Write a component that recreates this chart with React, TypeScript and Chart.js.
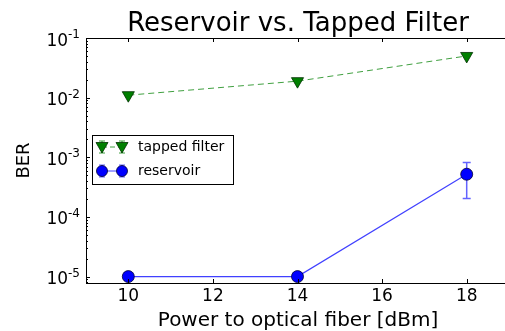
import React, { useEffect, useRef } from 'react';
import { Chart, registerables } from 'chart.js';
Chart.register(...registerables);

const powers = [10, 14, 18];
const tappedBER = [0.011, 0.0189, 0.05];
const reservoirBER = [1e-5, 1e-5, 5.2e-4];
const reservoirErrLow: (number | null)[] = [null, null, 2.04e-4];
const reservoirErrHigh: (number | null)[] = [null, null, 8.2e-4];
const xTicks = [10, 12, 14, 16, 18];
const yDecades = [-1, -2, -3, -4, -5];
const titleText = 'Reservoir vs. Tapped Filter';
const xLabel = 'Power to optical fiber [dBm]';
const yLabel = 'BER';
const seriesNames = ['tapped filter', 'reservoir'];

const FONT = '"DejaVu Sans", sans-serif';
const GREEN = '#008000';
const GREEN_LINE = 'rgba(0,128,0,0.75)';
const BLUE = '#0000ff';
const BLUE_LINE = 'rgba(0,0,255,0.75)';

function drawTri(ctx: CanvasRenderingContext2D, x: number, y: number, r: number) {
  ctx.beginPath();
  ctx.moveTo(x - r, y - r * 0.75);
  ctx.lineTo(x + r, y - r * 0.75);
  ctx.lineTo(x, y + r);
  ctx.closePath();
  ctx.fillStyle = GREEN;
  ctx.fill();
  ctx.strokeStyle = '#003000';
  ctx.lineWidth = 0.8;
  ctx.stroke();
}
function drawCirc(ctx: CanvasRenderingContext2D, x: number, y: number, r: number) {
  ctx.beginPath();
  ctx.arc(x, y, r, 0, Math.PI * 2);
  ctx.fillStyle = BLUE;
  ctx.fill();
  ctx.strokeStyle = '#000033';
  ctx.lineWidth = 0.8;
  ctx.stroke();
}

const errorBarPlugin = {
  id: 'errbars',
  beforeDatasetsDraw(chart: any) {
    const ctx = chart.ctx;
    const xs = chart.scales.x;
    const ys = chart.scales.y;
    ctx.save();
    ctx.strokeStyle = 'rgba(60,60,255,0.8)';
    ctx.lineWidth = 1.5;
    powers.forEach((p, i) => {
      const lo = reservoirErrLow[i];
      const hi = reservoirErrHigh[i];
      if (lo == null || hi == null) return;
      const x = xs.getPixelForValue(p);
      const y1 = ys.getPixelForValue(lo);
      const y2 = ys.getPixelForValue(hi);
      ctx.beginPath();
      ctx.moveTo(x, y1); ctx.lineTo(x, y2);
      ctx.moveTo(x - 4, y1); ctx.lineTo(x + 4, y1);
      ctx.moveTo(x - 4, y2); ctx.lineTo(x + 4, y2);
      ctx.stroke();
    });
    ctx.restore();
  },
};

const decorPlugin = {
  id: 'decor',
  afterDraw(chart: any) {
    const ctx: CanvasRenderingContext2D = chart.ctx;
    const a = chart.chartArea;
    const xs = chart.scales.x;
    const ys = chart.scales.y;
    ctx.save();
    ctx.strokeStyle = '#000';
    ctx.lineWidth = 1;
    ctx.strokeRect(Math.round(a.left) + 0.5, Math.round(a.top) + 0.5, a.right - a.left, a.bottom - a.top);
    xTicks.forEach((t) => {
      const x = Math.round(xs.getPixelForValue(t)) + 0.5;
      ctx.beginPath();
      ctx.moveTo(x, a.bottom); ctx.lineTo(x, a.bottom - 4);
      ctx.moveTo(x, a.top); ctx.lineTo(x, a.top + 4);
      ctx.stroke();
    });
    for (let d = -6; d <= -1; d++) {
      for (let m = 1; m <= 9; m++) {
        const v = m * Math.pow(10, d);
        if (v < ys.min * 0.999 || v > ys.max * 1.001) continue;
        const y = Math.round(ys.getPixelForValue(v)) + 0.5;
        const len = m === 1 ? 4 : 2;
        ctx.beginPath();
        ctx.moveTo(a.left, y); ctx.lineTo(a.left + len, y);
        ctx.moveTo(a.right, y); ctx.lineTo(a.right - len, y);
        ctx.stroke();
      }
    }
    ctx.fillStyle = '#000';
    ctx.font = `17px ${FONT}`;
    ctx.textAlign = 'center';
    ctx.textBaseline = 'alphabetic';
    xTicks.forEach((t) => {
      ctx.fillText(String(t), xs.getPixelForValue(t), a.bottom + 18);
    });
    yDecades.forEach((d) => {
      const y = ys.getPixelForValue(Math.pow(10, d));
      const sup = String(d);
      ctx.font = `12px ${FONT}`;
      const sw = ctx.measureText(sup).width;
      ctx.textAlign = 'right';
      ctx.textBaseline = 'alphabetic';
      const right = a.left - 6;
      ctx.fillText(sup, right, y);
      ctx.font = `17px ${FONT}`;
      ctx.fillText('10', right - sw, y + 7.5);
    });
    ctx.font = `26px ${FONT}`;
    ctx.textAlign = 'center';
    ctx.fillText(titleText, 298, 31);
    ctx.font = `20px ${FONT}`;
    ctx.fillText(xLabel, 298, 326);
    ctx.save();
    ctx.translate(29, (a.top + a.bottom) / 2);
    ctx.rotate(-Math.PI / 2);
    ctx.font = `18px ${FONT}`;
    ctx.textAlign = 'center';
    ctx.fillText(yLabel, 0, 0);
    ctx.restore();
    // legend
    const lx = 92, ly = 135, lw = 141, lh = 49;
    ctx.fillStyle = '#fff';
    ctx.fillRect(lx, ly, lw, lh);
    ctx.strokeStyle = '#000';
    ctx.lineWidth = 1;
    ctx.strokeRect(lx + 0.5, ly + 0.5, lw, lh);
    const rows = [147, 171];
    const mx1 = 102, mx2 = 122;
    ctx.strokeStyle = GREEN_LINE;
    ctx.lineWidth = 1;
    ctx.beginPath();
    [mx1, mx2].forEach((mx) => {
      ctx.moveTo(mx, rows[0] - 6); ctx.lineTo(mx, rows[0] + 6);
      ctx.moveTo(mx - 3, rows[0] - 6); ctx.lineTo(mx + 3, rows[0] - 6);
      ctx.moveTo(mx - 3, rows[0] + 6); ctx.lineTo(mx + 3, rows[0] + 6);
    });
    ctx.stroke();
    ctx.setLineDash([5, 3]);
    ctx.beginPath();
    ctx.moveTo(mx1, rows[0]); ctx.lineTo(mx2, rows[0]);
    ctx.stroke();
    ctx.setLineDash([]);
    drawTri(ctx, mx1, rows[0], 6);
    drawTri(ctx, mx2, rows[0], 6);
    ctx.strokeStyle = 'rgba(60,60,255,0.8)';
    ctx.lineWidth = 1;
    ctx.beginPath();
    [mx1, mx2].forEach((mx) => {
      ctx.moveTo(mx, rows[1] - 6); ctx.lineTo(mx, rows[1] + 6);
      ctx.moveTo(mx - 3, rows[1] - 6); ctx.lineTo(mx + 3, rows[1] - 6);
      ctx.moveTo(mx - 3, rows[1] + 6); ctx.lineTo(mx + 3, rows[1] + 6);
    });
    ctx.stroke();
    ctx.strokeStyle = BLUE_LINE;
    ctx.beginPath();
    ctx.moveTo(mx1, rows[1]); ctx.lineTo(mx2, rows[1]);
    ctx.stroke();
    drawCirc(ctx, mx1, rows[1], 5.5);
    drawCirc(ctx, mx2, rows[1], 5.5);
    ctx.fillStyle = '#000';
    ctx.font = `14px ${FONT}`;
    ctx.textAlign = 'left';
    ctx.textBaseline = 'middle';
    ctx.fillText(seriesNames[0], 138, rows[0]);
    ctx.fillText(seriesNames[1], 138, rows[1]);
    ctx.restore();
  },
};

export default function App() {
  const ref = useRef<HTMLCanvasElement>(null);
  useEffect(() => {
    if (!ref.current) return;
    const chart = new Chart(ref.current, {
      type: 'line',
      data: {
        datasets: [
          {
            label: seriesNames[0],
            data: powers.map((p, i) => ({ x: p, y: tappedBER[i] })),
            borderColor: GREEN_LINE,
            borderWidth: 1,
            borderDash: [6, 4],
            pointStyle: 'triangle',
            rotation: 180,
            pointRadius: 7,
            pointBackgroundColor: GREEN,
            pointBorderColor: '#003000',
            pointBorderWidth: 0.8,
            fill: false,
          },
          {
            label: seriesNames[1],
            data: powers.map((p, i) => ({ x: p, y: reservoirBER[i] })),
            borderColor: BLUE_LINE,
            borderWidth: 1.2,
            pointStyle: 'circle',
            pointRadius: 6,
            pointBackgroundColor: BLUE,
            pointBorderColor: '#000033',
            pointBorderWidth: 0.8,
            fill: false,
          },
        ],
      },
      options: {
        responsive: false,
        animation: false,
        layout: { padding: { top: 38, right: 11, left: 0, bottom: 0 } },
        plugins: { legend: { display: false }, title: { display: false }, tooltip: { enabled: false } },
        scales: {
          x: {
            type: 'linear',
            min: 9,
            max: 19,
            grid: { display: false },
            border: { display: false },
            ticks: { display: false },
            afterBuildTicks: (s: any) => { s.ticks = xTicks.map((v) => ({ value: v })); },
            afterFit: (s: any) => { s.height = 48; },
          },
          y: {
            type: 'logarithmic',
            min: 7.8e-6,
            max: 0.1,
            grid: { display: false },
            border: { display: false },
            ticks: { display: false },
            afterBuildTicks: (s: any) => { s.ticks = yDecades.map((d) => ({ value: Math.pow(10, d) })); },
            afterFit: (s: any) => { s.width = 86; },
          },
        },
      },
      plugins: [errorBarPlugin, decorPlugin],
    });
    return () => chart.destroy();
  }, []);
  return (
    <div style={{ position: 'fixed', left: 0, top: 0, width: 505, height: 331, overflow: 'hidden', background: '#fff' }}>
      <canvas ref={ref} width={520} height={331} style={{ display: 'block', width: 520, height: 331 }} />
    </div>
  );
}
